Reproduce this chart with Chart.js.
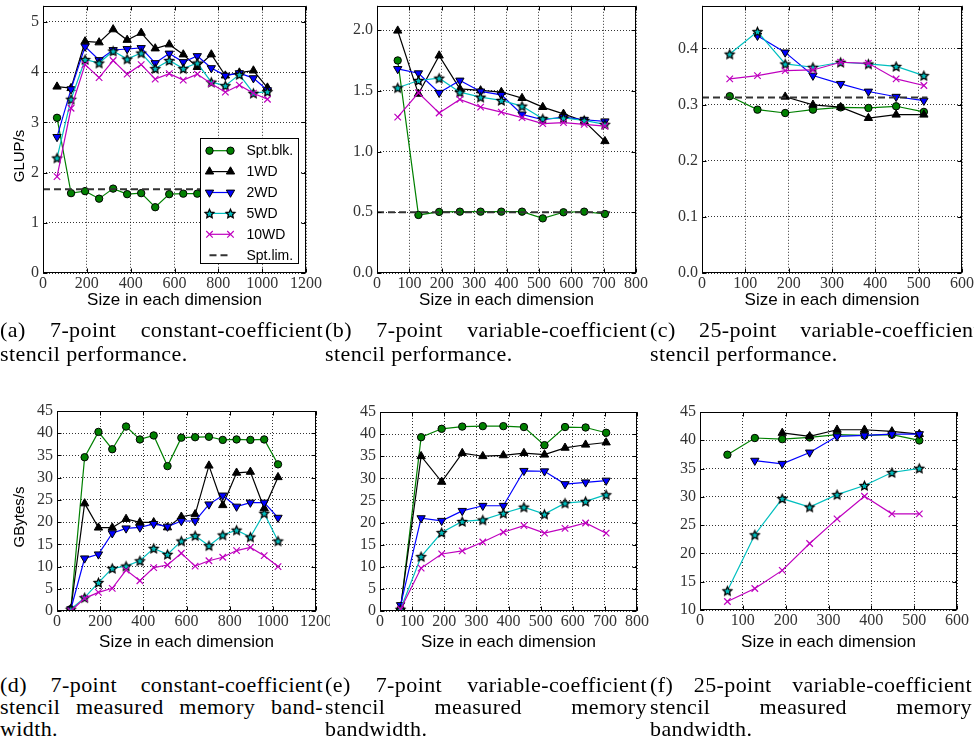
<!DOCTYPE html>
<html>
<head>
<meta charset="utf-8">
<script src="https://cdn.jsdelivr.net/npm/chart.js@4.4.1/dist/chart.umd.min.js"></script>
<style>
body{margin:0;background:#fff;overflow:hidden}
#page{position:relative;width:974px;height:736px;overflow:hidden;background:#fff}
#page canvas{position:absolute}
.ylab{position:absolute;font:15px 'Liberation Sans',Arial,sans-serif;white-space:nowrap;transform:translate(-50%,-50%) rotate(-90deg)}
.cap{position:absolute;font:22px 'Liberation Serif','Times New Roman',serif;letter-spacing:.4px;line-height:22px;color:#000;white-space:nowrap;overflow:hidden}
.cap.top{line-height:24px}
.cap div{text-align:left}
.cap div.j{text-align:justify;text-align-last:justify}
</style>
</head>
<body>
<div id="page">
  <canvas id="cA" width="325" height="312" style="left:0px;top:0px"></canvas>
  <canvas id="cB" width="330" height="312" style="left:322px;top:0px"></canvas>
  <canvas id="cC" width="326" height="312" style="left:648px;top:0px"></canvas>
  <canvas id="cD" width="330" height="258" style="left:0px;top:398px"></canvas>
  <canvas id="cE" width="330" height="258" style="left:325px;top:398px"></canvas>
  <canvas id="cF" width="324" height="258" style="left:650px;top:398px"></canvas>

  <div class="ylab" style="left:18px;top:156px">GLUP/s</div>
  <div class="ylab" style="left:18px;top:517px">GBytes/s</div>

  <div class="cap top" style="left:0px;top:318px;width:323px">
    <div class="j">(a) 7-point constant-coefficient</div>
    <div>stencil performance.</div>
  </div>
  <div class="cap top" style="left:325px;top:318px;width:322px">
    <div class="j">(b) 7-point variable-coefficient</div>
    <div>stencil performance.</div>
  </div>
  <div class="cap top" style="left:650px;top:318px;width:330px">
    <div class="j">(c) 25-point variable-coefficient</div>
    <div>stencil performance.</div>
  </div>
  <div class="cap" style="left:0px;top:674px;width:323px">
    <div class="j">(d) 7-point constant-coefficient</div>
    <div class="j">stencil measured memory band-</div>
    <div>width.</div>
  </div>
  <div class="cap" style="left:325px;top:674px;width:322px">
    <div class="j">(e) 7-point variable-coefficient</div>
    <div class="j">stencil measured memory</div>
    <div>bandwidth.</div>
  </div>
  <div class="cap" style="left:650px;top:674px;width:322px">
    <div class="j">(f) 25-point variable-coefficient</div>
    <div class="j">stencil measured memory</div>
    <div>bandwidth.</div>
  </div>
</div>

<script>
// problem sizes (x axis)
const sizes1024 = [64,128,192,256,320,384,448,512,576,640,704,768,832,896,960,1024];
const sizes704  = [64,128,192,256,320,384,448,512,576,640,704];
const sizes512  = [64,128,192,256,320,384,448,512];

// (a) 7-point constant-coefficient, GLUP/s
const aSptBlk = [3.09,1.59,1.63,1.48,1.68,1.57,1.59,1.31,1.57,1.58,1.58,1.57,1.59,1.58,1.60,1.58];
const a1WD    = [3.71,3.68,4.61,4.59,4.85,4.64,4.78,4.47,4.55,4.35,4.10,4.35,3.93,3.99,4.03,3.69];
const a2WD    = [2.71,3.66,4.51,4.24,4.44,4.46,4.48,4.18,4.37,4.20,4.32,4.08,3.93,3.98,3.88,3.64];
const a5WD    = [2.29,3.46,4.25,4.18,4.42,4.26,4.38,4.07,4.23,4.07,4.18,3.80,3.73,3.95,3.58,3.61];
const a10WD   = [1.92,3.28,4.15,3.89,4.23,3.96,4.15,3.86,3.97,3.84,3.96,3.77,3.60,3.74,3.58,3.46];
const aSptLim = [1.667, 1.667];
const aLimX   = [0, 1040];

// (b) 7-point variable-coefficient, GLUP/s
const bSptBlk = [1.75,0.478,0.503,0.505,0.505,0.505,0.505,0.45,0.50,0.505,0.486];
const b1WD    = [1.995,1.475,1.79,1.516,1.503,1.49,1.44,1.366,1.31,1.25,1.085];
const b2WD    = [1.68,1.645,1.484,1.585,1.495,1.467,1.306,1.262,1.284,1.262,1.249];
const b5WD    = [1.525,1.585,1.604,1.489,1.448,1.421,1.374,1.27,1.276,1.257,1.224];
const b10WD   = [1.284,1.484,1.317,1.429,1.366,1.325,1.279,1.23,1.238,1.224,1.21];
const bSptLim = [0.5, 0.5];
const bLimX   = [0, 720];

// (c) 25-point variable-coefficient, GLUP/s
const cSptBlk = [0.315,0.291,0.285,0.291,0.295,0.294,0.297,0.287];
const c1WD    = [null,null,0.314,0.2996,0.2954,0.276,0.282,0.282];
const c2WD    = [null,0.4227,0.393,0.3517,0.337,0.3233,0.314,0.307];
const c5WD    = [0.39,0.43,0.3724,0.3665,0.3754,0.3724,0.368,0.3517];
const c10WD   = [0.3457,0.3517,0.3606,0.3617,0.3754,0.3736,0.3457,0.334];
const cSptLim = [0.3125, 0.3125];
const cLimX   = [0, 520];

// (d) 7-point constant-coefficient, GBytes/s
const dSptBlk = [0.4,34.6,40.3,36.4,41.5,38.6,39.5,32.6,39.0,39.1,39.2,38.5,38.6,38.5,38.6,33.0];
const d1WD    = [0.4,24.2,18.75,18.75,20.7,19.95,19.95,18.8,21.2,21.75,32.7,23.8,31.1,31.3,23.1,30.1];
const d2WD    = [0.4,11.85,12.75,17.5,18.6,18.8,19.6,19.0,20.25,20.25,24.0,26.0,23.5,24.4,24.4,21.0];
const d5WD    = [0.4,3.0,6.4,9.6,10.1,11.3,14.1,12.75,15.75,16.95,14.7,17.1,18.2,16.65,22.0,15.75];
const d10WD   = [0,2.85,4.2,5.1,9.2,6.8,9.75,10.35,13.0,10.1,11.3,12.1,13.6,14.3,12.45,10.0];

// (e) 7-point variable-coefficient, GBytes/s
const eSptBlk = [0.4,39.3,41.2,41.7,41.8,41.8,41.6,37.5,41.6,41.5,40.3];
const e1WD    = [0.75,35.0,29.2,35.7,35.0,35.2,35.7,35.35,36.9,37.6,38.1];
const e2WD    = [1.35,21.0,20.4,22.65,23.8,23.8,31.7,31.6,28.7,29.1,29.5];
const e5WD    = [0.4,12.3,17.75,20.25,20.6,22.1,23.5,21.9,24.4,24.8,26.3];
const e10WD   = [0.4,9.7,12.9,13.6,15.6,17.8,19.3,17.6,18.7,19.9,17.6];

// (f) 25-point variable-coefficient, GBytes/s
const fSptBlk = [37.45,40.4,40.2,40.5,41.0,40.86,41.0,39.97];
const f1WD    = [null,null,41.3,40.7,41.86,41.86,41.56,41.1];
const f2WD    = [null,36.4,35.85,37.85,40.7,40.86,41.1,41.1];
const f5WD    = [13.4,23.3,29.7,28.2,30.4,32.0,34.3,35.05];
const f10WD   = [11.5,13.8,17.0,21.75,26.1,30.1,27.0,27.0];

// axis ranges: [min, max, step]
const xRange1200 = [0, 1200, 200];
const xRange800  = [0, 800, 100];
const xRange600  = [0, 600, 100];
const yRangeA = [0, 5.32, 1];
const yRangeB = [0, 2.2, 0.5];
const yRangeC = [0, 0.476, 0.1];
const yRangeBW = [0, 45, 5];
const yRangeF = [10, 45, 5];

const xTitle = 'Size in each dimension';
const legendLabels = ['Spt.blk.', '1WD', '2WD', '5WD', '10WD', 'Spt.lim.'];

function xy(xs, ys) {
  return xs.map((x, i) => ({x: x, y: ys[i]}));
}

// filled star marker (matplotlib '*')
function makeStar(r) {
  const c = document.createElement('canvas');
  const s = Math.ceil(r * 2 + 3);
  c.width = s; c.height = s;
  const g = c.getContext('2d');
  g.translate(s / 2, s / 2 + 0.5);
  g.beginPath();
  for (let i = 0; i < 10; i++) {
    const rad = i % 2 ? r * 0.48 : r;
    const a = -Math.PI / 2 + i * Math.PI / 5;
    g.lineTo(rad * Math.cos(a), rad * Math.sin(a));
  }
  g.closePath();
  g.fillStyle = '#00bfbf';
  g.fill();
  g.strokeStyle = '#000';
  g.lineWidth = 1.3;
  g.stroke();
  return c;
}
const starImg = makeStar(4.6);

function buildSets(xs, blk, w1, w2, w5, w10, lim, limX) {
  const base = {borderWidth: 1.2, pointBorderWidth: 1, fill: false, tension: 0, spanGaps: false};
  const sets = [
    Object.assign({}, base, {label: legendLabels[0], data: xy(xs, blk), borderColor: '#008000',
      pointStyle: 'circle', pointRadius: 3.7, pointBackgroundColor: '#008000', pointBorderColor: '#000', order: 6}),
    Object.assign({}, base, {label: legendLabels[1], data: xy(xs, w1), borderColor: '#000',
      pointStyle: 'triangle', pointRadius: 4.8, pointBackgroundColor: '#000', pointBorderColor: '#000', order: 5}),
    Object.assign({}, base, {label: legendLabels[2], data: xy(xs, w2), borderColor: '#0000ff',
      pointStyle: 'triangle', pointRotation: 180, pointRadius: 4.8, pointBackgroundColor: '#0000ff', pointBorderColor: '#000', order: 4}),
    Object.assign({}, base, {label: legendLabels[3], data: xy(xs, w5), borderColor: '#00bfbf',
      pointStyle: starImg, pointRadius: 4.6, order: 3}),
    Object.assign({}, base, {label: legendLabels[4], data: xy(xs, w10), borderColor: '#bf00bf',
      pointStyle: 'crossRot', pointRadius: 4.6, pointBorderColor: '#bf00bf', pointBorderWidth: 1.2, order: 2})
  ];
  if (lim) {
    sets.push({label: legendLabels[5], data: xy(limX, lim), borderColor: '#333', borderWidth: 2,
      borderDash: [7, 4], pointRadius: 0, fill: false, order: 1});
  }
  return sets;
}

// black frame with inward tick marks on all four sides
const framePlugin = {
  id: 'frame',
  afterDraw(chart) {
    const {ctx, chartArea: a, scales} = chart;
    ctx.save();
    ctx.strokeStyle = '#000';
    ctx.lineWidth = 1;
    const L = Math.round(a.left) + 0.5, R = Math.round(a.right) - 0.5;
    const T = Math.round(a.top) + 0.5, B = Math.round(a.bottom) - 0.5;
    ctx.strokeRect(L, T, R - L, B - T);
    ctx.beginPath();
    scales.x.ticks.forEach(t => {
      const p = Math.round(scales.x.getPixelForValue(t.value)) + 0.5;
      ctx.moveTo(p, B); ctx.lineTo(p, B - 4);
      ctx.moveTo(p, T); ctx.lineTo(p, T + 4);
    });
    scales.y.ticks.forEach(t => {
      const p = Math.round(scales.y.getPixelForValue(t.value)) + 0.5;
      ctx.moveTo(L, p); ctx.lineTo(L + 4, p);
      ctx.moveTo(R, p); ctx.lineTo(R - 4, p);
    });
    ctx.stroke();
    ctx.restore();
  }
};

// legend box drawn inside the plot area (panel a)
const boxLegendPlugin = {
  id: 'boxLegend',
  afterDraw(chart, args, opts) {
    if (!opts.show) return;
    const {ctx, chartArea: a} = chart;
    const w = 98, h = 125;
    const x0 = a.right - 8 - w, y0 = a.bottom - 10 - h;
    ctx.save();
    ctx.fillStyle = '#fff';
    ctx.fillRect(x0, y0, w, h);
    ctx.strokeStyle = '#000';
    ctx.lineWidth = 1;
    ctx.strokeRect(Math.round(x0) + 0.5, Math.round(y0) + 0.5, w, h);
    ctx.font = "14px 'Liberation Sans', Arial, sans-serif";
    ctx.textBaseline = 'middle';
    chart.data.datasets.forEach((ds, i) => {
      const y = y0 + 12.7 + i * 20.9;
      const lx1 = x0 + 9.5, lx2 = x0 + 30.5;
      ctx.save();
      ctx.strokeStyle = ds.borderColor;
      ctx.lineWidth = ds.borderWidth;
      ctx.setLineDash(ds.borderDash || []);
      ctx.beginPath();
      ctx.moveTo(lx1, y); ctx.lineTo(lx2, y);
      ctx.stroke();
      ctx.restore();
      if (ds.pointRadius > 0) {
        [lx1, lx2].forEach(px => {
          ctx.save();
          ctx.fillStyle = ds.pointBackgroundColor || ds.borderColor;
          ctx.strokeStyle = ds.pointBorderColor || ds.borderColor;
          ctx.lineWidth = ds.pointBorderWidth;
          Chart.helpers.drawPoint(ctx, {pointStyle: ds.pointStyle, rotation: ds.pointRotation || 0,
            radius: ds.pointRadius, borderWidth: ds.pointBorderWidth}, px, y);
          ctx.restore();
        });
      }
      ctx.fillStyle = '#000';
      ctx.fillText(ds.label, x0 + 46.5, y + 0.5);
    });
    ctx.restore();
  }
};

const tickFont = {family: '"Liberation Serif"', size: 16, lineHeight: 1};

function makePanel(id, canvasBox, area, sets, xr, yr, yDec, labelPad, titleY, legend) {
  const padR = canvasBox.x + canvasBox.w - area.r;
  const padT = area.t - canvasBox.y;
  const yW = area.l - canvasBox.x;
  const xH = canvasBox.y + canvasBox.h - area.b;
  const titlePadBottom = canvasBox.y + canvasBox.h - titleY - 9;
  const gridOpts = {color: 'rgba(0,0,0,0.8)', lineWidth: 1, drawTicks: false};
  return new Chart(document.getElementById(id), {
    type: 'line',
    data: {datasets: sets},
    options: {
      responsive: false,
      animation: false,
      layout: {padding: {left: 0, right: padR, top: padT, bottom: 0}},
      plugins: {legend: {display: false}, tooltip: {enabled: false}, boxLegend: {show: legend}},
      scales: {
        x: {
          type: 'linear', min: xr[0], max: xr[1],
          grid: gridOpts,
          border: {display: false, dash: [1, 2]},
          ticks: {stepSize: xr[2], padding: labelPad, color: '#333', font: tickFont, maxRotation: 0,
            callback: v => String(v)},
          title: {display: true, text: xTitle, color: '#000',
            font: {family: 'Liberation Sans, Arial, sans-serif', size: 17, lineHeight: 1.2},
            padding: {top: 0, bottom: titlePadBottom}},
          afterFit(s) { s.height = xH; s.paddingLeft = 0; s.paddingRight = 0; }
        },
        y: {
          type: 'linear', min: yr[0], max: yr[1],
          grid: gridOpts,
          border: {display: false, dash: [1, 2]},
          ticks: {stepSize: yr[2], padding: 4, color: '#333', font: tickFont, includeBounds: false,
            callback: v => v.toFixed(yDec)},
          afterFit(s) { s.width = yW; s.paddingTop = 0; s.paddingBottom = 0; }
        }
      }
    },
    plugins: [framePlugin, boxLegendPlugin]
  });
}

makePanel('cA', {x: 0, y: 0, w: 325, h: 312}, {l: 43, t: 2, r: 306, b: 273},
  buildSets(sizes1024, aSptBlk, a1WD, a2WD, a5WD, a10WD, aSptLim, aLimX),
  xRange1200, yRangeA, 0, 2.5, 302, true);
makePanel('cB', {x: 322, y: 0, w: 330, h: 312}, {l: 377, t: 5, r: 636, b: 273},
  buildSets(sizes704, bSptBlk, b1WD, b2WD, b5WD, b10WD, bSptLim, bLimX),
  xRange800, yRangeB, 1, 2.5, 302, false);
makePanel('cC', {x: 648, y: 0, w: 326, h: 312}, {l: 702, t: 5, r: 962, b: 273},
  buildSets(sizes512, cSptBlk, c1WD, c2WD, c5WD, c10WD, cSptLim, cLimX),
  xRange600, yRangeC, 1, 2.5, 302, false);
makePanel('cD', {x: 0, y: 398, w: 330, h: 258}, {l: 57, t: 411, r: 316, b: 611},
  buildSets(sizes1024, dSptBlk, d1WD, d2WD, d5WD, d10WD, null, null),
  xRange1200, yRangeBW, 0, 2.5, 644, false);
makePanel('cE', {x: 325, y: 398, w: 330, h: 258}, {l: 380, t: 412, r: 637, b: 611},
  buildSets(sizes704, eSptBlk, e1WD, e2WD, e5WD, e10WD, null, null),
  xRange800, yRangeBW, 0, 2.5, 644, false);
makePanel('cF', {x: 650, y: 398, w: 324, h: 258}, {l: 700, t: 412, r: 957, b: 610},
  buildSets(sizes512, fSptBlk, f1WD, f2WD, f5WD, f10WD, null, null),
  xRange600, yRangeF, 0, 2.5, 644, false);
</script>
</body>
</html>
